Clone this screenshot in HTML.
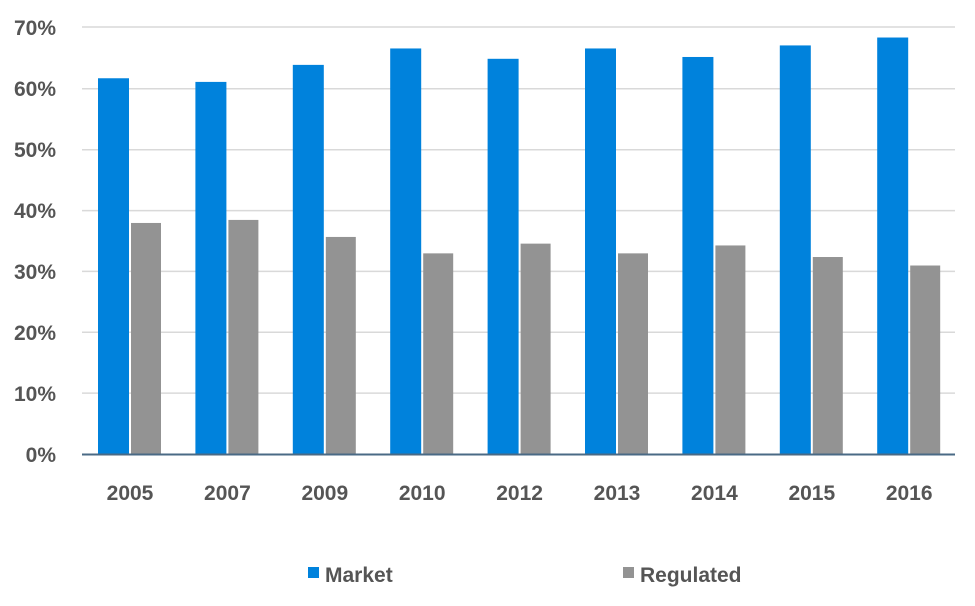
<!DOCTYPE html>
<html><head><style>
body{margin:0;background:#fff;width:975px;height:601px;overflow:hidden;font-family:"Liberation Sans",sans-serif;}
</style></head><body>
<svg width="975" height="601" xmlns="http://www.w3.org/2000/svg" font-family="Liberation Sans, sans-serif">
<g stroke="#d9d9d9" stroke-width="1.5">
<line x1="82" x2="955" y1="27" y2="27"/><line x1="82" x2="955" y1="88.8" y2="88.8"/>
<line x1="82" x2="955" y1="149.7" y2="149.7"/><line x1="82" x2="955" y1="210.6" y2="210.6"/>
<line x1="82" x2="955" y1="271.4" y2="271.4"/><line x1="82" x2="955" y1="332.3" y2="332.3"/>
<line x1="82" x2="955" y1="393.1" y2="393.1"/>
</g>
<g font-size="21" font-weight="bold" fill="#555" text-anchor="end">
<text x="56" y="35">70%</text><text x="56" y="96">60%</text><text x="56" y="157">50%</text>
<text x="56" y="218">40%</text><text x="56" y="279">30%</text><text x="56" y="340">20%</text>
<text x="56" y="401">10%</text><text x="56" y="462">0%</text>
</g>
<g id="bars"></g>
<line x1="82" x2="955" y1="454.5" y2="454.5" stroke="#4a6a85" stroke-width="2"/>
<g font-size="21" font-weight="bold" fill="#555" text-anchor="middle" id="xl"></g>
<rect x="308" y="567" width="11" height="11" fill="#0082dc"/>
<text x="325" y="582" font-size="21" font-weight="bold" fill="#555">Market</text>
<rect x="623" y="567" width="11" height="11" fill="#939393"/>
<text x="640" y="582" font-size="21" font-weight="bold" fill="#555">Regulated</text>
</svg>
<script>
var m=[61.8,61.2,64,66.7,65,66.7,65.3,67.2,68.5],r=[38,38.5,35.7,33,34.6,33,34.3,32.4,31],
y=["2005","2007","2009","2010","2012","2013","2014","2015","2016"],s="",t="";
for(var i=0;i<9;i++){var x=98+i*97.4,hm=m[i]*6.08,hr=r[i]*6.08;
s+='<rect x="'+x+'" y="'+(454-hm)+'" width="31" height="'+hm+'" fill="#0082dc"/>';
s+='<rect x="'+(x+33)+'" y="'+(454-hr)+'" width="30" height="'+hr+'" fill="#939393"/>';
t+='<text x="'+(x+32)+'" y="500">'+y[i]+'</text>';}
document.getElementById("bars").innerHTML=s;document.getElementById("xl").innerHTML=t;
</script>
</body></html>
